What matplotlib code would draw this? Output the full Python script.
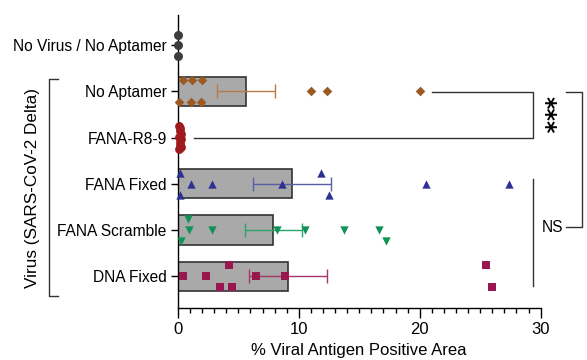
import matplotlib.pyplot as plt
import matplotlib.transforms as mtransforms
from matplotlib.ticker import MultipleLocator

plt.rcParams['font.family'] = ['Liberation Sans', 'DejaVu Sans']

# groups (top to bottom)
groups = ['No Virus / No Aptamer', 'No Aptamer', 'FANA-R8-9', 'FANA Fixed', 'FANA Scramble', 'DNA Fixed']

# individual values (% positive area)
no_virus = [0.0, 0.0, 0.0]
no_aptamer = [0.4, 1.2, 2.0, 0.1, 1.1, 1.9, 11.0, 12.3, 20.0]
fana_r89 = [0.1, 0.2, 0.15, 0.25, 0.1, 0.3, 0.2, 0.15, 0.25, 0.1]
fana_fixed = [0.15, 11.8, 1.05, 2.8, 8.6, 20.5, 27.4, 0.15, 12.5]
fana_scramble = [0.85, 0.9, 2.8, 8.2, 10.5, 13.7, 16.6, 0.25, 17.2]
dna_fixed = [4.2, 25.5, 0.4, 2.3, 6.45, 8.9, 3.5, 4.5, 26.0]

# bar means and SEM
means = [0.0, 5.6, 0.17, 9.45, 7.9, 9.1]
sem = [0.0, 2.4, 0.03, 3.25, 2.35, 3.2]

values = [no_virus, no_aptamer, fana_r89, fana_fixed, fana_scramble, dna_fixed]

# vertical scatter offsets of the dots
offsets = [
    [-0.23, 0.0, 0.23],
    [-0.24, -0.24, -0.24, 0.24, 0.24, 0.24, 0.0, 0.0, 0.0],
    [-0.25, -0.2, -0.14, -0.08, -0.02, 0.04, 0.1, 0.16, 0.21, 0.25],
    [-0.24, -0.24, 0.0, 0.0, 0.0, 0.0, 0.0, 0.24, 0.24],
    [-0.24, 0.0, 0.0, 0.0, 0.0, 0.0, 0.0, 0.24, 0.24],
    [-0.24, -0.24, 0.0, 0.0, 0.0, 0.0, 0.24, 0.24, 0.24],
]
markers = ['o', 'D', 'o', '^', 'v', 's']
colors = ['#3d3d3d', '#9c5a22', '#9e1a1c', '#2e3192', '#0f9356', '#99174f']
err_colors = ['#3d3d3d', '#b7784a', '#9e1a1c', '#5a5ea8', '#2aa46a', '#a6366a']
sizes = [42, 24, 40, 36, 36, 34]

fig = plt.figure(figsize=(5.87, 3.6), dpi=100)
ax = fig.add_axes([0.303, 0.144, 0.618, 0.814])

ypos = list(range(len(groups)))
ax.barh(ypos, means, height=0.63, color='#a9a9a9', edgecolor='#333333', linewidth=1.2, zorder=1)

for i in range(len(groups)):
    if sem[i] > 0.1:
        ax.errorbar(means[i], i, xerr=sem[i], fmt='none', ecolor=err_colors[i],
                    elinewidth=1.0, capsize=5, capthick=1.0, zorder=2)
    ys = [i + o for o in offsets[i]]
    ax.scatter(values[i], ys, marker=markers[i], s=sizes[i], color=colors[i],
               linewidths=0, zorder=3, clip_on=False)

ax.set_xlim(0, 30)
ax.set_ylim(5.69, -0.65)
ax.set_yticks(ypos)
ax.set_yticklabels(groups, fontsize=11.2)
ax.xaxis.set_major_locator(MultipleLocator(10))
ax.xaxis.set_minor_locator(MultipleLocator(1))
ax.tick_params(axis='x', which='major', length=7, width=1.0, labelsize=12, pad=3)
ax.tick_params(axis='x', which='minor', length=3.5, width=1.0)
ax.tick_params(axis='y', length=5, width=1.0, pad=3)
ax.spines['top'].set_visible(False)
ax.spines['right'].set_visible(False)
ax.spines['left'].set_linewidth(1.0)
ax.spines['bottom'].set_linewidth(1.0)
ax.set_xlabel('% Viral Antigen Positive Area', fontsize=12, labelpad=4)

# significance brackets
lc = '#333333'
ax.plot([21.0, 29.35, 29.35, 1.35], [1.02, 1.02, 2.0, 2.0], color=lc, lw=1.0, clip_on=False)
ax.text(30.3, 1.5, '***', rotation=-90, fontsize=17, fontweight='bold',
        family='DejaVu Sans', ha='center', va='center')
ax.plot([29.35, 29.35], [2.9, 5.22], color=lc, lw=1.0, clip_on=False)
ax.text(31.0, 3.94, 'NS', fontsize=11.2, ha='center', va='center')
ax.plot([32.1, 33.4, 33.4, 32.1], [3.94, 3.94, 1.02, 1.02], color=lc, lw=1.0, clip_on=False)

# left group bracket
trans = mtransforms.blended_transform_factory(fig.transFigure, ax.transData)
fig.add_artist(plt.Line2D([0.099, 0.0835, 0.0835, 0.099], [0.74, 0.74, 5.43, 5.43],
                          transform=trans, color=lc, lw=1.0))
fig.text(0.056, 3.08, 'Virus (SARS-CoV-2 Delta)', transform=trans, rotation=90,
         fontsize=12.3, ha='center', va='center')

fig.savefig('out.png', dpi=100)
